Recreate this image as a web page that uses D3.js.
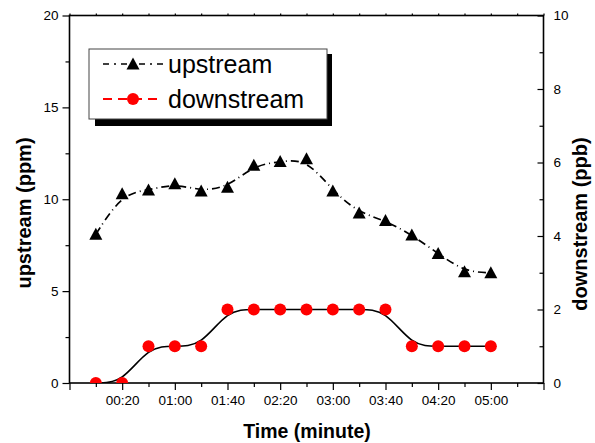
<!DOCTYPE html>
<html>
<head>
<meta charset="utf-8">
<script src="https://cdn.jsdelivr.net/npm/d3@7"></script>
<style>
  body { margin: 0; background: #fff; }
  svg { font-family: Arial, 'Liberation Sans', sans-serif; }
</style>
</head>
<body>
<svg></svg>
<script>
// sample times in minutes
const times = [0, 20, 40, 60, 80, 100, 120, 140, 160, 180, 200, 220, 240, 260, 280, 300];
// upstream (ppm), left axis
const upstream = [8.1, 10.3, 10.5, 10.85, 10.45, 10.65, 11.85, 12.05, 12.2, 10.45, 9.25, 8.85, 8.05, 7.05, 6.05, 6.0];
// downstream (ppb), right axis
const downstream = [0, 0, 1, 1, 1, 2, 2, 2, 2, 2, 2, 2, 1, 1, 1, 1];
// x ticks (major every 40 min, minor between)
const xMajor = [-20, 20, 60, 100, 140, 180, 220, 260, 300, 340];
const xMinor = [0, 40, 80, 120, 160, 200, 240, 280, 320];
const xLabels = ['00:20', '01:00', '01:40', '02:20', '03:00', '03:40', '04:20', '05:00'];
const leftMajor = [0, 5, 10, 15, 20];
const leftMinor = [2.5, 7.5, 12.5, 17.5];
const rightMajor = [0, 2, 4, 6, 8, 10];
const rightMinor = [1, 3, 5, 7, 9];
const legendNames = ['upstream', 'downstream'];

const font = "Arial, 'Liberation Sans', sans-serif";
const size = {w: 595, h: 443};
const plot = {l: 69.5, r: 543.5, t: 15.5, b: 383};

const svg = d3.select('svg')
    .attr('width', size.w)
    .attr('height', size.h);

const x = d3.scaleLinear().domain([-20, 340]).range([plot.l, plot.r]);
const yL = d3.scaleLinear().domain([0, 20]).range([plot.b, plot.t]);
const yR = d3.scaleLinear().domain([0, 10]).range([plot.b, plot.t]);

// clip for the data marks
svg.append('clipPath').attr('id', 'clip')
    .append('rect')
    .attr('x', plot.l).attr('y', plot.t)
    .attr('width', plot.r - plot.l).attr('height', plot.b - plot.t);

// ---- axes ----
function styleAxis(g) {
    g.attr('font-family', font).attr('font-size', 13.5);
    g.select('.domain').remove();
    g.selectAll('line').attr('stroke', '#000').attr('stroke-width', 1.2);
    g.selectAll('text').attr('fill', '#000');
}

// bottom
svg.append('g').attr('transform', `translate(0,${plot.b})`)
    .call(d3.axisBottom(x).tickValues(xMajor).tickSize(7).tickPadding(5)
        .tickFormat(d => (d >= 20 && d <= 300) ? xLabels[(d - 20) / 40] : ''))
    .call(styleAxis);
svg.append('g').attr('transform', `translate(0,${plot.b})`)
    .call(d3.axisBottom(x).tickValues(xMinor).tickSize(4).tickFormat(''))
    .call(styleAxis);
// top (small marks)
svg.append('g').attr('transform', `translate(0,${plot.t})`)
    .call(d3.axisTop(x).tickValues(xMajor.concat(xMinor)).tickSize(2).tickFormat(''))
    .call(styleAxis);

// left
svg.append('g').attr('transform', `translate(${plot.l},0)`)
    .call(d3.axisLeft(yL).tickValues(leftMajor).tickSize(7).tickPadding(4))
    .call(styleAxis);
svg.append('g').attr('transform', `translate(${plot.l},0)`)
    .call(d3.axisLeft(yL).tickValues(leftMinor).tickSize(4).tickFormat(''))
    .call(styleAxis);

// right (ticks point inward)
svg.append('g').attr('transform', `translate(${plot.r},0)`)
    .call(d3.axisRight(yR).tickValues(rightMajor).tickSize(-6).tickPadding(10))
    .call(styleAxis);
svg.append('g').attr('transform', `translate(${plot.r},0)`)
    .call(d3.axisRight(yR).tickValues(rightMinor).tickSize(-4).tickFormat(''))
    .call(styleAxis);

// frame
svg.append('rect')
    .attr('x', plot.l).attr('y', plot.t)
    .attr('width', plot.r - plot.l).attr('height', plot.b - plot.t)
    .attr('fill', 'none').attr('stroke', '#000').attr('stroke-width', 1.6);

// axis titles
svg.append('text')
    .attr('transform', `translate(31,213) rotate(-90)`)
    .attr('text-anchor', 'middle')
    .attr('font-size', 20).attr('font-weight', 'bold')
    .text('upstream (ppm)');
svg.append('text')
    .attr('transform', `translate(587,224) rotate(-90)`)
    .attr('text-anchor', 'middle')
    .attr('font-size', 20).attr('font-weight', 'bold')
    .text('downstream (ppb)');
svg.append('text')
    .attr('x', 307).attr('y', 438)
    .attr('text-anchor', 'middle')
    .attr('font-size', 19.5).attr('font-weight', 'bold')
    .text('Time (minute)');

// ---- data ----
const dataG = svg.append('g').attr('clip-path', 'url(#clip)');

const upLine = d3.line()
    .x((d, i) => x(times[i]))
    .y(d => yL(d))
    .curve(d3.curveBasis);
const downLine = d3.line()
    .x((d, i) => x(times[i]))
    .y(d => yR(d))
    .curve(d3.curveBasis);

dataG.append('path')
    .attr('d', upLine(upstream))
    .attr('fill', 'none').attr('stroke', '#000')
    .attr('stroke-width', 1.7)
    .attr('stroke-dasharray', '8,4,1,4');

dataG.append('path')
    .attr('d', downLine(downstream))
    .attr('fill', 'none').attr('stroke', '#000')
    .attr('stroke-width', 1.6);

const tri = 'M0,-6.5L6.5,5.5L-6.5,5.5Z';

dataG.selectAll('path.tri')
    .data(upstream)
    .join('path')
    .classed('tri', true)
    .attr('d', tri)
    .attr('transform', (d, i) => `translate(${x(times[i])},${yL(d)})`)
    .attr('fill', '#000');

dataG.selectAll('circle')
    .data(downstream)
    .join('circle')
    .attr('cx', (d, i) => x(times[i]))
    .attr('cy', d => yR(d))
    .attr('r', 6)
    .attr('fill', '#ff0000');

// ---- legend ----
const legend = {x: 89, y: 49, w: 238, h: 70};
const legG = svg.append('g');
legG.append('rect')
    .attr('x', legend.x + 6).attr('y', legend.y + 5)
    .attr('width', legend.w - 1).attr('height', legend.h + 2)
    .attr('fill', '#000');
legG.append('rect')
    .attr('x', legend.x).attr('y', legend.y)
    .attr('width', legend.w).attr('height', legend.h)
    .attr('fill', '#fff').attr('stroke', '#444').attr('stroke-width', 1);

const rowY = [64, 99];
legendNames.forEach((name, i) => {
    const ly = rowY[i];
    legG.append('line')
        .attr('x1', 103).attr('x2', 163)
        .attr('y1', ly).attr('y2', ly)
        .attr('stroke', i === 0 ? '#000' : '#ff0000')
        .attr('stroke-width', i === 0 ? 1.6 : 2)
        .attr('stroke-dasharray', i === 0 ? '6,5,2,5' : '9,6');
    if (i === 0) {
        legG.append('path').attr('d', tri)
            .attr('transform', `translate(133,${ly})`)
            .attr('fill', '#000');
    } else {
        legG.append('circle')
            .attr('cx', 133).attr('cy', ly).attr('r', 6)
            .attr('fill', '#ff0000');
    }
    legG.append('text')
        .attr('x', 168).attr('y', ly + 9)
        .attr('font-size', 25)
        .text(name);
});
</script>
</body>
</html>
